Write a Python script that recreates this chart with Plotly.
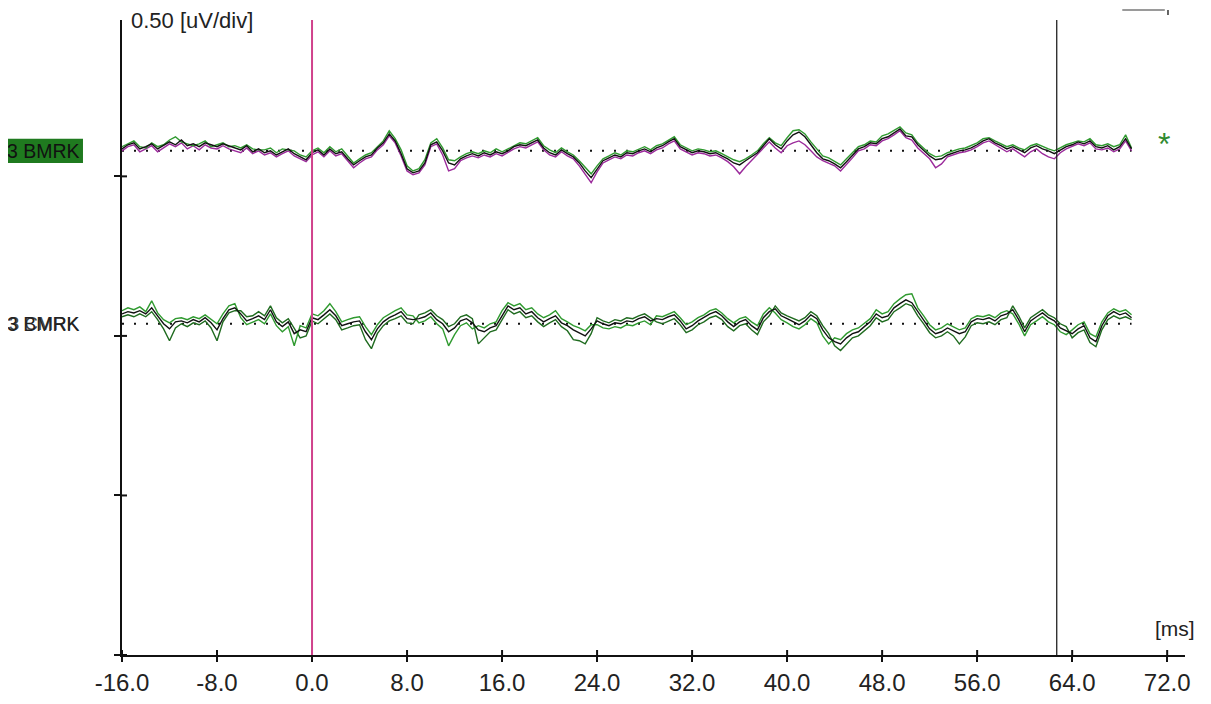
import plotly.graph_objects as go

# ---------------- data ----------------
T_START = -16.0
T_STEP = 0.5
N_SAMPLES = 171  # -16.0 ... 69.0 ms

X_TICKS = [-16, -8, 0, 8, 16, 24, 32, 40, 48, 56, 64, 72]
X_TICK_TEXT = ["-16.0", "-8.0", "0.0", "8.0", "16.0", "24.0", "32.0", "40.0", "48.0", "56.0", "64.0", "72.0"]
Y_TICKS = [0.0, 0.5, 1.0, 1.5]

CURSOR_ZERO_MS = 0.0
CURSOR_END_MS = 62.7

CH1_LABEL = "3 BMRK"
CH2_LABEL = "3 BMRK"
CH2_LABEL_OVER = "3 CMRK"

# channel 1 (upper) deviations from its baseline, uV
ch1_black = [0.006, 0.019, 0.025, 0.006, 0.013, 0.022, 0.006, 0.016, 0.028, 0.019,
             0.034, 0.016, 0.022, 0.013, 0.025, 0.019, 0.013, 0.022, 0.016, 0.009,
             0.003, 0.016, -0.003, 0.006, -0.006, 0.0, -0.013, -0.003, 0.006, -0.009,
             -0.019, -0.028, -0.006, 0.003, -0.013, 0.006, -0.009, -0.003, -0.025, -0.044,
             -0.031, -0.019, -0.013, 0.009, 0.025, 0.053, 0.031, -0.009, -0.056, -0.069,
             -0.063, -0.038, 0.019, 0.028, 0.0, -0.038, -0.044, -0.025, -0.016, -0.009,
             -0.016, -0.006, -0.013, -0.003, -0.009, 0.0, 0.013, 0.019, 0.016, 0.025,
             0.034, 0.009, -0.006, -0.013, 0.003, -0.009, -0.019, -0.038, -0.063, -0.084,
             -0.056, -0.031, -0.022, -0.013, -0.019, -0.006, -0.009, 0.0, 0.006, -0.003,
             0.009, 0.016, 0.028, 0.038, 0.013, 0.003, -0.006, 0.0, -0.003, -0.009,
             -0.006, -0.016, -0.025, -0.038, -0.044, -0.031, -0.019, -0.006, 0.016, 0.038,
             0.019, 0.006, 0.031, 0.05, 0.059, 0.044, 0.019, -0.006, -0.025, -0.031,
             -0.041, -0.053, -0.034, -0.013, 0.006, 0.013, 0.025, 0.022, 0.038, 0.044,
             0.056, 0.069, 0.047, 0.044, 0.019, 0.003, -0.016, -0.028, -0.025, -0.013,
             -0.006, 0.0, 0.003, 0.009, 0.019, 0.031, 0.038, 0.025, 0.016, 0.006,
             0.013, 0.003, -0.006, 0.009, 0.016, 0.006, 0.0, -0.009, 0.003, 0.013,
             0.019, 0.028, 0.022, 0.031, 0.013, 0.009, 0.016, 0.003, 0.013, 0.038,
             0.006]

ch1_green = [0.013, 0.022, 0.031, 0.013, 0.009, 0.025, 0.013, 0.019, 0.034, 0.044,
             0.028, 0.022, 0.016, 0.022, 0.031, 0.013, 0.019, 0.025, 0.013, 0.016,
             0.009, 0.019, 0.006, 0.003, 0.003, 0.009, -0.006, 0.006, 0.003, 0.0,
             -0.013, -0.019, 0.0, 0.009, -0.006, 0.013, -0.003, 0.006, -0.016, -0.038,
             -0.025, -0.013, -0.006, 0.013, 0.031, 0.063, 0.038, 0.003, -0.047, -0.063,
             -0.056, -0.028, 0.025, 0.038, 0.009, -0.028, -0.031, -0.019, -0.009, -0.003,
             -0.009, 0.0, -0.006, 0.006, -0.003, 0.006, 0.016, 0.025, 0.022, 0.031,
             0.041, 0.016, 0.003, -0.006, 0.009, -0.003, -0.013, -0.031, -0.053, -0.072,
             -0.047, -0.025, -0.016, -0.006, -0.013, 0.0, -0.003, 0.006, 0.013, 0.003,
             0.016, 0.022, 0.034, 0.044, 0.019, 0.009, 0.0, 0.006, 0.003, -0.003,
             0.0, -0.009, -0.019, -0.028, -0.034, -0.025, -0.013, 0.0, 0.022, 0.041,
             0.025, 0.016, 0.041, 0.063, 0.066, 0.053, 0.028, 0.006, -0.016, -0.022,
             -0.034, -0.044, -0.025, -0.006, 0.013, 0.019, 0.031, 0.028, 0.047, 0.053,
             0.063, 0.075, 0.056, 0.05, 0.025, 0.009, -0.009, -0.019, -0.016, -0.006,
             0.0, 0.006, 0.009, 0.016, 0.025, 0.038, 0.041, 0.031, 0.022, 0.013,
             0.019, 0.009, 0.003, 0.016, 0.022, 0.013, 0.006, 0.0, 0.009, 0.019,
             0.025, 0.031, 0.028, 0.038, 0.019, 0.016, 0.022, 0.013, 0.019, 0.05,
             0.009]

ch1_magenta = [0.0, 0.013, 0.019, -0.003, 0.006, 0.016, -0.003, 0.009, 0.022, 0.013,
               0.025, 0.006, 0.016, 0.003, 0.019, 0.009, 0.006, 0.016, 0.006, 0.0,
               -0.006, 0.009, -0.009, 0.0, -0.013, -0.006, -0.019, -0.009, 0.0, -0.016,
               -0.025, -0.034, -0.013, -0.003, -0.019, 0.0, -0.016, -0.009, -0.031, -0.053,
               -0.038, -0.025, -0.019, 0.003, 0.019, 0.047, 0.025, -0.016, -0.063, -0.075,
               -0.069, -0.044, 0.013, 0.022, -0.013, -0.063, -0.056, -0.031, -0.022, -0.016,
               -0.022, -0.013, -0.019, -0.009, -0.016, -0.006, 0.006, 0.013, 0.009, 0.019,
               0.028, 0.003, -0.013, -0.019, -0.003, -0.016, -0.025, -0.047, -0.072, -0.1,
               -0.066, -0.038, -0.028, -0.019, -0.025, -0.013, -0.016, -0.006, 0.0, -0.009,
               0.003, 0.009, 0.022, 0.031, 0.006, -0.003, -0.013, -0.006, -0.009, -0.016,
               -0.013, -0.022, -0.034, -0.05, -0.072, -0.05, -0.031, -0.013, 0.006, 0.028,
               0.009, -0.006, 0.016, 0.025, 0.031, 0.019, 0.0, -0.019, -0.031, -0.038,
               -0.047, -0.063, -0.044, -0.022, 0.0, 0.006, 0.019, 0.016, 0.031, 0.038,
               0.05, 0.063, 0.041, 0.034, 0.009, -0.009, -0.025, -0.053, -0.041, -0.019,
               -0.013, -0.006, -0.003, 0.003, 0.013, 0.025, 0.031, 0.019, 0.009, -0.003,
               0.006, -0.006, -0.019, -0.003, 0.006, -0.009, -0.019, -0.025, -0.006, 0.006,
               0.013, 0.022, 0.016, 0.025, 0.006, 0.003, 0.009, -0.003, 0.006, 0.031,
               0.0]

# channel 2 (lower) deviations from its baseline, uV
ch2_black = [0.031, 0.038, 0.034, 0.041, 0.031, 0.05, 0.025, 0.0, -0.016, 0.006,
             0.009, 0.003, 0.013, 0.006, 0.019, 0.003, -0.019, 0.016, 0.044, 0.05,
             0.031, 0.009, 0.016, 0.025, 0.013, 0.044, 0.006, -0.009, 0.006, -0.031,
             -0.019, -0.025, 0.019, 0.013, 0.028, 0.044, 0.025, -0.006, 0.0, 0.006,
             0.009, -0.025, -0.05, -0.016, 0.006, 0.019, 0.028, 0.038, 0.016, 0.013,
             0.016, 0.022, 0.034, 0.013, 0.0, -0.025, -0.013, 0.009, 0.016, 0.003,
             -0.019, -0.025, -0.013, -0.006, 0.025, 0.056, 0.044, 0.05, 0.031, 0.038,
             0.019, 0.006, 0.016, 0.025, 0.003, -0.006, -0.019, -0.028, -0.038, -0.016,
             0.009, 0.0, -0.006, 0.003, 0.0, 0.009, 0.006, 0.016, 0.022, 0.009,
             0.016, 0.013, 0.022, 0.028, 0.009, -0.016, -0.006, 0.009, 0.019, 0.031,
             0.038, 0.025, 0.006, -0.009, 0.006, 0.013, -0.006, -0.019, 0.019, 0.038,
             0.047, 0.025, 0.016, 0.006, -0.003, 0.009, 0.028, 0.016, -0.019, -0.044,
             -0.056, -0.063, -0.044, -0.031, -0.025, -0.009, 0.006, 0.031, 0.019, 0.025,
             0.05, 0.063, 0.075, 0.066, 0.038, 0.013, -0.016, -0.031, -0.025, -0.013,
             -0.022, -0.031, -0.025, 0.006, 0.016, 0.013, 0.019, 0.009, 0.025, 0.031,
             0.044, 0.013, -0.025, 0.009, 0.022, 0.034, 0.019, 0.009, -0.013, -0.022,
             -0.031, -0.016, -0.006, -0.044, -0.056, -0.006, 0.025, 0.038, 0.028, 0.034,
             0.019]

ch2_green_a = [0.041, 0.05, 0.044, 0.053, 0.038, 0.072, 0.034, 0.013, 0.003, 0.016,
               0.019, 0.013, 0.022, 0.016, 0.028, 0.013, 0.0, 0.031, 0.056, 0.063,
               0.019, -0.003, 0.006, 0.013, 0.0, 0.031, -0.006, -0.025, -0.009, -0.069,
               -0.006, -0.013, 0.031, 0.025, 0.041, 0.063, 0.038, 0.006, 0.013, 0.019,
               0.022, -0.009, -0.034, -0.003, 0.019, 0.031, 0.041, 0.05, 0.028, 0.025,
               0.003, 0.009, 0.022, 0.0, -0.016, -0.069, -0.034, -0.006, 0.003, -0.016,
               -0.006, -0.013, 0.0, 0.006, 0.041, 0.066, 0.056, 0.063, 0.044, 0.05,
               0.031, 0.019, 0.028, 0.041, 0.016, 0.006, -0.006, -0.013, -0.022, -0.003,
               -0.003, -0.013, -0.016, -0.009, -0.013, -0.003, -0.006, 0.003, 0.009, -0.003,
               0.025, 0.022, 0.031, 0.038, 0.019, -0.003, 0.006, 0.019, 0.028, 0.041,
               0.047, 0.034, 0.016, 0.003, 0.016, 0.022, 0.006, -0.006, 0.031, 0.05,
               0.034, 0.013, 0.003, -0.009, -0.016, -0.003, 0.016, 0.003, -0.038, -0.063,
               -0.044, -0.05, -0.031, -0.019, -0.013, 0.003, 0.016, 0.044, 0.031, 0.038,
               0.063, 0.078, 0.091, 0.094, 0.05, 0.025, -0.003, -0.019, -0.013, 0.0,
               -0.009, -0.019, -0.013, 0.016, 0.025, 0.022, 0.028, 0.019, 0.034, 0.041,
               0.031, 0.0, -0.038, -0.003, 0.009, 0.022, 0.006, -0.003, -0.025, -0.034,
               -0.019, -0.003, 0.006, -0.031, -0.041, 0.006, 0.034, 0.047, 0.038, 0.044,
               0.028]

ch2_green_b = [0.022, 0.028, 0.022, 0.031, 0.022, 0.038, 0.013, -0.016, -0.053, -0.013,
               0.0, -0.009, 0.003, -0.003, 0.009, -0.013, -0.053, 0.006, 0.034, 0.041,
               0.041, 0.022, 0.025, 0.038, 0.025, 0.056, 0.019, 0.003, 0.016, -0.013,
               -0.044, -0.038, 0.009, 0.0, 0.016, 0.031, 0.013, -0.019, -0.013, -0.006,
               -0.003, -0.05, -0.078, -0.031, -0.006, 0.009, 0.016, 0.025, 0.003, 0.0,
               0.028, 0.034, 0.044, 0.025, 0.013, -0.009, 0.0, 0.022, 0.028, 0.016,
               -0.063, -0.044, -0.025, -0.019, 0.013, 0.044, 0.031, 0.038, 0.019, 0.025,
               0.006, -0.009, 0.003, 0.013, -0.009, -0.022, -0.05, -0.053, -0.063, -0.031,
               0.019, 0.009, 0.003, 0.013, 0.009, 0.019, 0.016, 0.025, 0.031, 0.019,
               0.006, 0.0, 0.009, 0.016, -0.003, -0.028, -0.019, -0.003, 0.006, 0.019,
               0.025, 0.013, -0.009, -0.022, -0.006, 0.0, -0.019, -0.034, 0.006, 0.025,
               0.056, 0.034, 0.025, 0.016, 0.009, 0.019, 0.038, 0.025, -0.006, -0.031,
               -0.069, -0.084, -0.063, -0.044, -0.038, -0.022, -0.006, 0.019, 0.006, 0.013,
               0.038, 0.05, 0.063, 0.056, 0.025, 0.0, -0.028, -0.044, -0.038, -0.025,
               -0.038, -0.063, -0.041, -0.006, 0.003, 0.0, 0.006, -0.003, 0.013, 0.019,
               0.056, 0.025, -0.013, 0.019, 0.031, 0.044, 0.028, 0.019, 0.0, -0.009,
               -0.044, -0.028, -0.019, -0.059, -0.072, -0.019, 0.013, 0.025, 0.016, 0.022,
               0.013]

# ---------------- layout constants ----------------
CH1_BASE = 1.58
CH2_BASE = 1.038
Y_RANGE = [0.0, 1.99]
X_RANGE = [-16.0, 73.5]

FONT = "Liberation Sans Narrow, Arial Narrow, Liberation Sans, Arial, sans-serif"

t = [T_START + T_STEP * i for i in range(N_SAMPLES)]


def shifted(vals, base):
    return [base + v for v in vals]


fig = go.Figure()

traces = [
    (ch1_magenta, CH1_BASE, "#9b2a9b"),
    (ch1_green, CH1_BASE, "#2f9a2f"),
    (ch1_black, CH1_BASE, "#111111"),
    (ch2_green_b, CH2_BASE, "#1f6b1f"),
    (ch2_green_a, CH2_BASE, "#2f9a2f"),
    (ch2_black, CH2_BASE, "#111111"),
]
for vals, base, col in traces:
    fig.add_trace(go.Scatter(x=t, y=shifted(vals, base), mode="lines",
                             line=dict(color=col, width=1.4), hoverinfo="skip",
                             showlegend=False))

PLOT_W = 1063
PLOT_H = 635

shapes = []
# dotted baselines
for base in (CH1_BASE, CH2_BASE):
    shapes.append(dict(type="line", xref="x", yref="y", x0=t[0], x1=t[-1], y0=base, y1=base,
                       line=dict(color="#111111", width=2, dash="2px,10px"), layer="below"))
# inner halves of the crossing tick marks
for v in Y_TICKS:
    shapes.append(dict(type="line", xref="paper", yref="y", x0=0, x1=5 / PLOT_W, y0=v, y1=v,
                       line=dict(color="#111111", width=2)))
for v in X_TICKS:
    shapes.append(dict(type="line", xref="x", yref="paper", x0=v, x1=v, y0=0, y1=5 / PLOT_H,
                       line=dict(color="#111111", width=2)))
# cursors
shapes.append(dict(type="line", xref="x", yref="paper", x0=CURSOR_ZERO_MS, x1=CURSOR_ZERO_MS,
                   y0=0, y1=1, line=dict(color="#d0428c", width=2)))
shapes.append(dict(type="line", xref="x", yref="paper", x0=CURSOR_END_MS, x1=CURSOR_END_MS,
                   y0=0, y1=1, line=dict(color="#222222", width=1.3)))
# little gray bar at top right
shapes.append(dict(type="line", xref="paper", yref="paper", x0=0.941, x1=0.981,
                   y0=1.0157, y1=1.0157, line=dict(color="#9a9a9a", width=2)))
shapes.append(dict(type="line", xref="paper", yref="paper", x0=0.984, x1=0.984,
                   y0=1.008, y1=1.0157, line=dict(color="#333333", width=1.5)))
# green label box for the first channel
shapes.append(dict(type="rect", xref="paper", yref="y", x0=-0.12, x1=-0.0367,
                   y0=CH1_BASE - 0.038, y1=CH1_BASE + 0.038,
                   fillcolor="#1f7a1f", line=dict(width=0), layer="below"))

LABEL_SIZE = 19.5
annotations = [
    dict(text="0.50 [uV/div]", xref="paper", yref="paper", x=0.007, y=1.0,
         xanchor="left", yanchor="middle", showarrow=False,
         font=dict(family=FONT, size=22, color="#222222")),
    dict(text="[ms]", xref="paper", yref="y", x=1.011, y=0.04,
         xanchor="right", yanchor="bottom", showarrow=False,
         font=dict(family=FONT, size=21, color="#222222")),
    dict(text=CH1_LABEL, xref="paper", yref="y", x=-0.0376, y=CH1_BASE,
         xanchor="right", yanchor="middle", showarrow=False,
         font=dict(family=FONT, size=LABEL_SIZE, color="#111111")),
    dict(text=CH2_LABEL_OVER, xref="paper", yref="y", x=-0.0376, y=CH2_BASE,
         xanchor="right", yanchor="middle", showarrow=False,
         font=dict(family=FONT, size=18.5, color="#444444")),
    dict(text=CH2_LABEL, xref="paper", yref="y", x=-0.0376, y=CH2_BASE,
         xanchor="right", yanchor="middle", showarrow=False,
         font=dict(family=FONT, size=LABEL_SIZE, color="#222222")),
    dict(text="*", xref="x", yref="y", x=71.7, y=CH1_BASE + 0.02,
         xanchor="center", yanchor="middle", showarrow=False,
         font=dict(family="Liberation Sans, Arial", size=32, color="#2f8a2f")),
]

# the page body adds an 8px offset, so the figure is 8px smaller than the window
fig.update_layout(
    width=1203, height=696,
    margin=dict(l=114, r=26, t=12, b=49),
    paper_bgcolor="white", plot_bgcolor="white",
    shapes=shapes, annotations=annotations,
    xaxis=dict(range=X_RANGE, showgrid=False, zeroline=False, showline=True,
               linecolor="#111111", linewidth=2, ticks="outside", ticklen=5,
               tickwidth=2, tickcolor="#111111", tickvals=X_TICKS, ticktext=X_TICK_TEXT,
               tickfont=dict(family=FONT, size=24, color="#222222"), automargin=False),
    yaxis=dict(range=Y_RANGE, showgrid=False, zeroline=False, showline=True,
               linecolor="#111111", linewidth=2, ticks="outside", ticklen=6,
               tickwidth=2, tickcolor="#111111", tickvals=Y_TICKS, showticklabels=False,
               automargin=False),
)

fig.write_html("out.html")
